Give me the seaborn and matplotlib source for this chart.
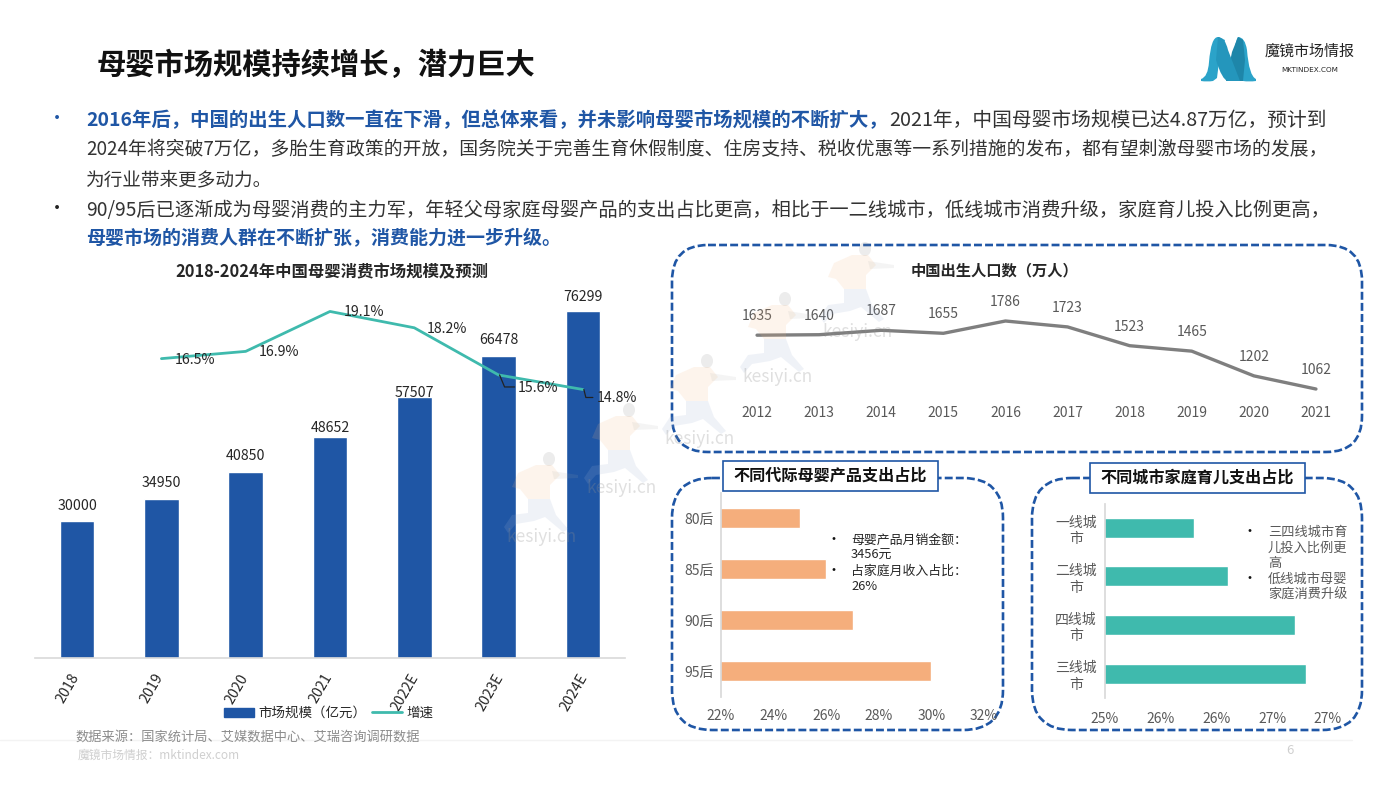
import matplotlib
matplotlib.use("Agg")
import matplotlib.pyplot as plt
import seaborn as sns
import pandas as pd
from matplotlib.patches import FancyBboxPatch, Rectangle, Ellipse, Polygon, PathPatch
from matplotlib.path import Path
from matplotlib.lines import Line2D
from matplotlib.transforms import ScaledTranslation

sns.set_theme(style="white")
plt.rcParams['font.family'] = ['Noto Sans CJK SC', 'DejaVu Sans']
plt.rcParams['axes.unicode_minus'] = False

W, H = 1400, 788

# ---------- data ----------
market_years = ["2018", "2019", "2020", "2021", "2022E", "2023E", "2024E"]
market_size = [30000, 34950, 40850, 48652, 57507, 66478, 76299]
growth_years = ["2019", "2020", "2021", "2022E", "2023E", "2024E"]
growth_rate = [16.5, 16.9, 19.1, 18.2, 15.6, 14.8]

birth_years = ["2012", "2013", "2014", "2015", "2016", "2017", "2018", "2019", "2020", "2021"]
birth_pop = [1635, 1640, 1687, 1655, 1786, 1723, 1523, 1465, 1202, 1062]

gen_names = ["80后", "85后", "90后", "95后"]
gen_share = [25, 26, 27, 30]
gen_ticks = [22, 24, 26, 28, 30, 32]

city_names = ["一线城\n市", "二线城\n市", "四线城\n市", "三线城\n市"]
city_share = [25.8, 26.1, 26.7, 26.8]
city_ticks = [25, 25.5, 26, 26.5, 27]
city_tick_labels = ["25%", "26%", "26%", "27%", "27%"]

BLUE = "#1F56A5"
TEAL = "#3FBAAD"
ORANGE = "#F5AE7C"
GRAY = "#595959"
DARK = "#262626"

fig = plt.figure(figsize=(14, 7.88), dpi=100, facecolor="white")


def px_axes(l, t, r, b, z=1):
    a = fig.add_axes([l / W, 1 - b / H, (r - l) / W, (b - t) / H], zorder=z)
    a.patch.set_alpha(0)
    return a


# pixel overlays
bg = px_axes(0, 0, W, H, z=0)
bg.set_xlim(0, W); bg.set_ylim(H, 0); bg.axis("off")
wm = px_axes(0, 0, W, H, z=4)
wm.set_xlim(0, W); wm.set_ylim(H, 0); wm.axis("off")
top = px_axes(0, 0, W, H, z=5)
top.set_xlim(0, W); top.set_ylim(H, 0); top.axis("off")

# ---------- watermarks ----------
for (tx, ty) in [(858, 327), (778, 377), (700, 439), (622, 488), (542, 537)]:
    def rel(pts):
        return [(tx + a, ty + b) for a, b in pts]
    wm.add_patch(Ellipse((tx + 7, ty - 78), 12, 14, color="#8A8A8A", alpha=0.16, lw=0))
    wm.add_patch(Polygon(rel([(-30, -50), (-24, -64), (-6, -72), (10, -72), (18, -62), (8, -52), (8, -38), (-14, -38), (-22, -48)]),
                         color="#F6B883", alpha=0.15, lw=0))
    wm.add_patch(Polygon(rel([(10, -66), (36, -62), (36, -59), (12, -58)]), color="#AAAAAA", alpha=0.12, lw=0))
    wm.add_patch(Polygon(rel([(-14, -38), (8, -38), (14, -22), (26, -8), (21, -5), (3, -20), (-8, -16), (-26, -13), (-34, -4),
                              (-38, -10), (-30, -22), (-14, -24)]),
                         color="#9DB0D2", alpha=0.16, lw=0))
    wm.text(tx, ty + (5 if ty == 327 else 0), "kesiyi.cn", fontsize=12.5, color="#8F8F8F", alpha=0.28, ha="center", va="center")

# ---------- header ----------
top.text(97, 65, "母婴市场规模持续增长，潜力巨大", fontsize=21.1, fontweight="bold",
         color="#111111", ha="left", va="center")

# logo
M, L, Q = Path.MOVETO, Path.LINETO, Path.CURVE3
logo_parts = [
    # right leg
    ([(1238, 37), (1245, 37), (1247, 50), (1249, 76), (1256, 79), (1256, 81), (1249, 82), (1243, 81), (1238, 78), (1236, 62), (1233, 45), (1238, 37)],
     [M, Q, Q, Q, Q, L, Q, Q, Q, Q, Q, Q], "#2BA3C9"),
    # rising stroke
    ([(1226, 81), (1232, 52), (1238, 37), (1243, 40), (1245, 60), (1243, 81)], [M, L, L, L, L, L], "#1E86A9"),
    # left leg
    ([(1201, 79), (1208, 77), (1209, 62), (1211, 37), (1218, 37), (1225, 40), (1219, 62), (1217, 78), (1213, 81), (1207, 82), (1201, 81)],
     [M, Q, Q, Q, Q, L, L, L, L, Q, Q], "#2BA3C9"),
    # falling stroke
    ([(1218, 37), (1225, 37), (1228, 50), (1240, 81), (1228, 81), (1222, 80), (1216, 60)],
     [M, Q, Q, L, L, Q, Q], "#2496BC"),
]
for pts, codes, c in logo_parts:
    top.add_patch(PathPatch(Path(pts, codes), fc=c, ec="none", lw=0))
top.text(1265, 51, "魔镜市场情报", fontsize=10.8, color="#222222", ha="left", va="center")
top.text(1310, 70, "MKTINDEX.COM", fontsize=5.2, family="DejaVu Sans", color="#222222", ha="center", va="center")

# ---------- body text ----------
for y, c in [(119, BLUE), (209, "#222222")]:
    top.text(57, y, "•", fontsize=13, color=c, ha="center", va="center")
top.text(86, 120, "2016年后，中国的出生人口数一直在下滑，但总体来看，并未影响母婴市场规模的不断扩大，",
         fontsize=13.95, fontweight="bold", color=BLUE, ha="left", va="center")
top.text(889, 120, "2021年，中国母婴市场规模已达4.87万亿，预计到", fontsize=14.2, color="#333333", ha="left", va="center")
top.text(86, 150, "2024年将突破7万亿，多胎生育政策的开放，国务院关于完善生育休假制度、住房支持、税收优惠等一系列措施的发布，都有望刺激母婴市场的发展，",
         fontsize=13.55, color="#333333", ha="left", va="center")
top.text(86, 180, "为行业带来更多动力。", fontsize=13.4, color="#333333", ha="left", va="center")
top.text(86, 210, "90/95后已逐渐成为母婴消费的主力军，年轻父母家庭母婴产品的支出占比更高，相比于一二线城市，低线城市消费升级，家庭育儿投入比例更高，",
         fontsize=13.85, color="#333333", ha="left", va="center")
top.text(86, 239, "母婴市场的消费人群在不断扩张，消费能力进一步升级。", fontsize=13.67, fontweight="bold",
         color=BLUE, ha="left", va="center")

# ---------- market bar + line ----------
ax = px_axes(35, 289.5, 625, 657.5, z=2)
df_market = pd.DataFrame({"year": market_years, "size": market_size})
sns.barplot(data=df_market, x="year", y="size", color=BLUE, saturation=1, width=0.41, ax=ax)
ax.set_xlim(-0.5, 6.5)
ax.set_ylim(0, 81150)
ax.set_xlabel(""); ax.set_ylabel("")
ax.set_yticks([])
sns.despine(ax=ax, left=True)
ax.spines["bottom"].set_color("#D9D9D9")
ax.spines["bottom"].set_linewidth(1.2)
ax.tick_params(axis="x", length=0, pad=10, labelsize=10.3, labelcolor=DARK)
for lab in ax.get_xticklabels():
    lab.set_rotation(60)
    lab.set_ha("center")
    lab.set_transform(lab.get_transform() + ScaledTranslation(-0.09, 0, fig.dpi_scale_trans))
bar_label_dy = [15, 16, 16, 9, 4, 16, 14]
for i, (v, dy) in enumerate(zip(market_size, bar_label_dy)):
    ax.annotate(str(v), (i, v), xytext=(0, dy), textcoords="offset pixels", ha="center", va="center",
                fontsize=10.2, color=DARK)

ax2 = ax.twinx()
ax2.set_zorder(3); ax2.patch.set_alpha(0)
growth_x = [market_years.index(y) for y in growth_years]
sns.lineplot(x=growth_x, y=growth_rate, color=TEAL, linewidth=2, sort=False, errorbar=None, ax=ax2)
ax2.set_ylim(0.03, 20.31)
ax2.set_yticks([]); ax2.set_ylabel("")
for s in ax2.spines.values():
    s.set_visible(False)
rate_off = [(34, -1), (33, -1), (34, -1), (33, -1), (39, -13), (34, -9)]
for x, v, (dx, dy) in zip(growth_x, growth_rate, rate_off):
    ax2.annotate(f"{v}%", (x, v), xytext=(dx, dy), textcoords="offset pixels", ha="center", va="center",
                 fontsize=10.2, color=DARK)
    if dy < -1:
        # leader line from the point to its label, drawn in the pixel overlay
        px, py = top.transData.inverted().transform(ax2.transData.transform((x, v)))
        elbow = 6 if dy == -13 else 3
        end = 16 if dy == -13 else 10
        top.plot([px + 1, px + elbow, px + end], [py, py - dy - 1, py - dy - 1], color="#222222", lw=0.9)

top.text(332, 272, "2018-2024年中国母婴消费市场规模及预测", fontsize=11.8, fontweight="bold",
         color=DARK, ha="center", va="center")

fig.legend(handles=[Rectangle((0, 0), 1, 1, color=BLUE), Line2D([0], [0], color=TEAL, lw=2)],
           labels=["市场规模（亿元）", "增速"], ncol=2, loc="center", bbox_to_anchor=(328.5 / W, 1 - 713 / H),
           frameon=False, fontsize=9.7, labelcolor=DARK, handlelength=2.25, handleheight=0.6,
           columnspacing=0.45, handletextpad=0.3)

# ---------- footer ----------
top.text(75, 737, "数据来源：国家统计局、艾媒数据中心、艾瑞咨询调研数据", fontsize=9.5, color="#8C8C8C", ha="left", va="center")
top.text(78, 755, "魔镜市场情报：mktindex.com", fontsize=8.5, color="#CFCFCF", ha="left", va="center")
top.plot([0, 1352], [740, 740], color="#F3F3F3", lw=1)
top.text(1290, 751, "6", fontsize=9.5, color="#CFCFCF", ha="center", va="center")


# ---------- rounded dashed frames ----------
def frame(l, t, r, b, rad):
    bg.add_patch(FancyBboxPatch((l + rad, t + rad), r - l - 2 * rad, b - t - 2 * rad,
                                boxstyle=f"round,pad={rad},rounding_size={rad}",
                                fc="none", ec=BLUE, lw=1.9, ls=(0, (3, 1.2))))


frame(672, 245, 1362, 452, 36)
frame(672, 478, 1003, 730, 40)
frame(1032, 478, 1362, 730, 40)

# ---------- birth line ----------
ax3 = px_axes(726, 290, 1347, 400, z=2)
sns.lineplot(x=birth_years, y=birth_pop, color="#7F7F7F", linewidth=2.4, sort=False, errorbar=None, ax=ax3)
ax3.set_xlim(-0.5, 9.5)
ax3.set_ylim(945, 2116)
ax3.set_xlabel(""); ax3.set_ylabel(""); ax3.set_yticks([])
for s in ax3.spines.values():
    s.set_visible(False)
ax3.tick_params(axis="x", length=0, pad=4, labelsize=10, labelcolor=GRAY)
for i, v in enumerate(birth_pop):
    ax3.annotate(str(v), (i, v), xytext=(0, 19), textcoords="offset pixels", ha="center", va="center",
                 fontsize=10, color=GRAY)
top.text(995, 270, "中国出生人口数（万人）", fontsize=11, fontweight="bold", color=DARK, ha="center", va="center")

# ---------- generation bars ----------
ax4 = px_axes(721, 492.5, 984, 696.5, z=2)
sns.barplot(x=gen_share, y=gen_names, color=ORANGE, saturation=1, width=0.4, orient="h", ax=ax4)
ax4.set_xlim(22, 32)
ax4.set_xticks(gen_ticks, [f"{t}%" for t in gen_ticks])
ax4.set_xlabel(""); ax4.set_ylabel("")
for k in ["top", "right", "bottom"]:
    ax4.spines[k].set_visible(False)
ax4.spines["left"].set_color("#D9D9D9")
ax4.tick_params(axis="both", length=0, labelsize=10, labelcolor=GRAY)
ax4.tick_params(axis="x", pad=9)
ax4.tick_params(axis="y", pad=5)
for y, t in [(540, "母婴产品月销金额："), (555, "3456元"), (571, "占家庭月收入占比："), (587, "26%")]:
    top.text(851, y, t, fontsize=9.3, color=DARK, ha="left", va="center")
for y in (540, 571):
    top.text(833, y, "•", fontsize=10, color="#111111", ha="center", va="center")

# ---------- city bars ----------
ax5 = px_axes(1105, 503.5, 1328, 698, z=2)
sns.barplot(x=city_share, y=city_names, color=TEAL, saturation=1, width=0.41, orient="h", ax=ax5)
ax5.set_xlim(25, 27)
ax5.set_xticks(city_ticks, city_tick_labels)
ax5.set_xlabel(""); ax5.set_ylabel("")
for k in ["top", "right", "bottom"]:
    ax5.spines[k].set_visible(False)
ax5.spines["left"].set_color("#D9D9D9")
ax5.tick_params(axis="both", length=0, labelsize=10, labelcolor=GRAY)
ax5.tick_params(axis="x", pad=10)
ax5.tick_params(axis="y", pad=6)
for lab in ax5.get_yticklabels():
    lab.set_multialignment("center")
    lab.set_linespacing(1.25)
for y, t in [(532, "三四线城市育"), (548, "儿投入比例更"), (564, "高"), (579, "低线城市母婴"), (595, "家庭消费升级")]:
    top.text(1268, y, t, fontsize=9.5, color=GRAY, ha="left", va="center")
for y in (532, 579):
    top.text(1250, y, "•", fontsize=10, color="#111111", ha="center", va="center")

# ---------- panel title boxes ----------
for (l, t, r, b, label) in [(723, 461, 938, 491, "不同代际母婴产品支出占比"), (1090, 463, 1305, 493, "不同城市家庭育儿支出占比")]:
    top.add_patch(Rectangle((l, t), r - l, b - t, fc="white", ec=BLUE, lw=1.2))
    top.text((l + r) / 2, (t + b) / 2 - 0.5, label, fontsize=11.6, fontweight="bold", color="#111111", ha="center", va="center")

fig.savefig("out.png", dpi=100, facecolor="white")
